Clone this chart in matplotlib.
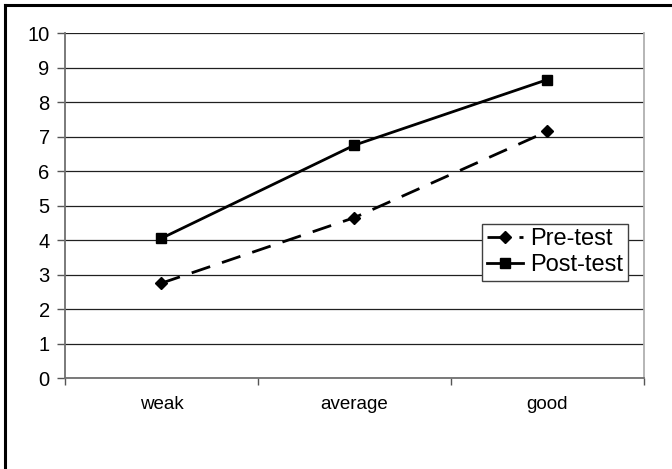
import matplotlib
matplotlib.use('Agg')
import matplotlib.pyplot as plt
from matplotlib.lines import Line2D

plt.rcParams['font.family'] = ['Liberation Sans', 'DejaVu Sans']

groups    = ["weak", "average", "good"]
pre_test  = [2.75, 4.65, 7.15]
post_test = [4.05, 6.75, 8.65]
y_ticks   = list(range(0, 11))

fig = plt.figure(figsize=(6.72, 4.69), dpi=100)
ax = fig.add_axes([0.0967, 0.194, 0.8615, 0.7356])

x = list(range(len(groups)))
ax.plot(x, pre_test, color="black", lw=2.0, dashes=(7, 4.5),
        marker="D", markersize=6, label="Pre-test")
ax.plot(x, post_test, color="black", lw=2.0,
        marker="s", markersize=7.5, label="Post-test")

ax.set_xlim(-0.5, len(groups) - 0.5)
ax.set_ylim(0, 10)
ax.set_yticks(y_ticks)
ax.set_yticklabels([str(v) for v in y_ticks], fontsize=14.5)
ax.yaxis.grid(True, color="#202020", lw=0.9)
ax.set_axisbelow(True)

ax.set_xticks(x)
ax.set_xticklabels(groups, fontsize=13.5)
ax.set_xticks([i - 0.5 for i in range(len(groups) + 1)], minor=True)
ax.tick_params(axis="x", which="major", length=0, pad=13)
ax.tick_params(axis="x", which="minor", length=5, width=1, color="#555555", direction="out")
ax.tick_params(axis="y", length=6, width=1, color="#555555", direction="out", pad=5)

for side in ["left", "bottom"]:
    ax.spines[side].set_color("#707070")
    ax.spines[side].set_linewidth(1.3)
ax.spines["right"].set_color("#b0b0b0")
ax.spines["right"].set_linewidth(1.3)
ax.spines["top"].set_visible(False)

leg = ax.legend(loc="center right", bbox_to_anchor=(0.973, 0.365), fontsize=17,
                frameon=True, fancybox=False, edgecolor="#404040", framealpha=1,
                handlelength=1.55, handletextpad=0.3, borderpad=0.2,
                labelspacing=0.15, borderaxespad=0)
leg.get_frame().set_linewidth(1.0)

# outer frame lines along the top and left edges
fig.add_artist(Line2D([5 / 672, 1], [1 - 5 / 469, 1 - 5 / 469],
                      transform=fig.transFigure, color="black", lw=2.2))
fig.add_artist(Line2D([5 / 672, 5 / 672], [0, 1 - 5 / 469],
                      transform=fig.transFigure, color="black", lw=2.2))

plt.savefig("out.png", dpi=100)
plt.close()
